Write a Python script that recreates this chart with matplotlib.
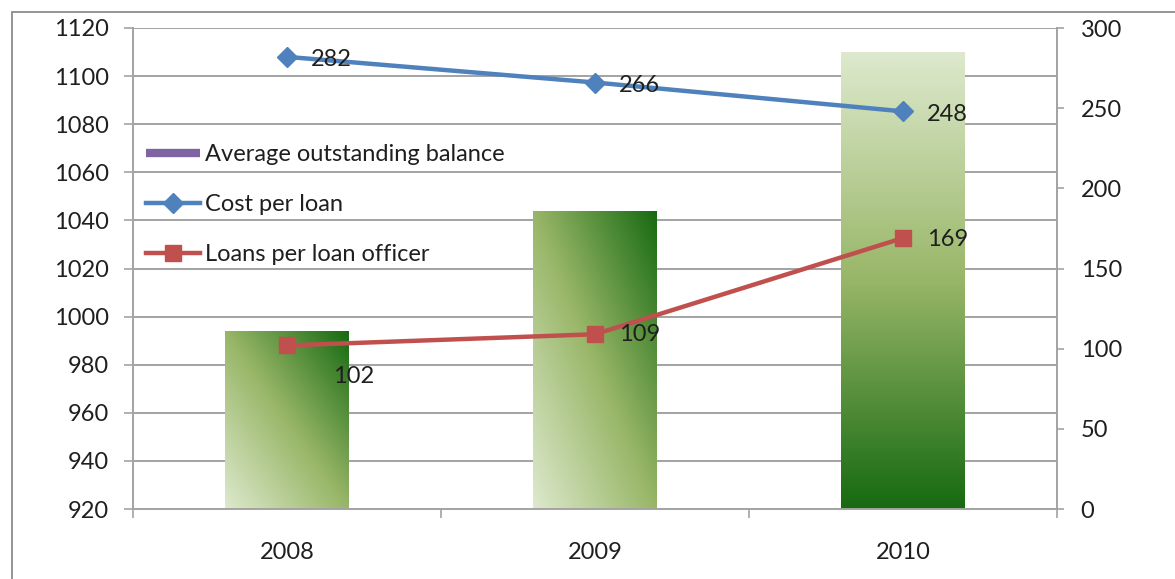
import numpy as np
import matplotlib.pyplot as plt
from matplotlib.colors import LinearSegmentedColormap
from matplotlib.lines import Line2D
from matplotlib.patches import Rectangle

years = ['2008', '2009', '2010']
avg_balance = [994, 1044, 1110]
cost_per_loan = [282, 266, 248]
loans_per_officer = [102, 109, 169]

plt.rcParams['font.family'] = ['Lato', 'DejaVu Sans']
plt.rcParams['font.size'] = 17

GRID = '#a3a3a3'
TXT = '#1f1f1f'
BLUE = '#4f81bd'
RED = '#c0504d'
PURPLE = '#8064a2'

fig = plt.figure(figsize=(11.75, 5.79), dpi=100)
ax = fig.add_axes([133 / 1175, 1 - 509 / 579, 924 / 1175, 481 / 579])
ax2 = ax.twinx()

# rahmen um das ganze diagramm
fig.patches.append(Rectangle((12 / 1175, -0.5), 1.2, 1.5 - 12 / 579,
                             transform=fig.transFigure, fill=False,
                             edgecolor='#8c8c8c', linewidth=1.3))

x = np.arange(len(years))
bars = ax.bar(x, avg_balance, width=0.4, color='none', edgecolor='none', zorder=2)

green = LinearSegmentedColormap.from_list('grn', ['#dde9cd', '#98b667', '#176a12'])
n = 200
u, v = np.meshgrid(np.linspace(0, 1, n), np.linspace(0, 1, n))
diag = (u + v) / 2
vert = 1 - v
grads = [diag, diag, vert]

for bar, g in zip(bars, grads):
    x0, w = bar.get_x(), bar.get_width()
    img = ax.imshow(g, cmap=green, vmin=0, vmax=1, origin='lower',
                    extent=[x0, x0 + w, 920, bar.get_height()],
                    aspect='auto', zorder=2, interpolation='bilinear')
    img.set_clip_path(bar)

ax.set_xlim(-0.5, 2.5)
ax.set_ylim(920, 1120)
ax.set_yticks(np.arange(920, 1121, 20))
ax.yaxis.grid(True, color=GRID, linewidth=1.4)
ax.set_axisbelow(True)

ax.set_xticks(x)
ax.set_xticklabels(years)
ax.set_xticks([-0.5, 0.5, 1.5, 2.5], minor=True)
ax.tick_params(axis='x', which='major', length=0, pad=24, colors=TXT)
ax.tick_params(axis='x', which='minor', length=6.5, width=1.2, color=GRID, direction='out')
ax.tick_params(axis='y', length=6.5, width=1.2, color=GRID, pad=11, colors=TXT)
for s in ['top', 'right']:
    ax.spines[s].set_visible(False)
for s in ['left', 'bottom']:
    ax.spines[s].set_color(GRID)
    ax.spines[s].set_linewidth(1.4)

ax2.set_ylim(0, 300)
ax2.set_yticks(np.arange(0, 301, 50))
ax2.tick_params(axis='y', length=5, width=1.2, color=GRID, pad=12, colors=TXT)
for s in ['top', 'left', 'bottom']:
    ax2.spines[s].set_visible(False)
ax2.spines['right'].set_color(GRID)
ax2.spines['right'].set_linewidth(1.4)

ax2.plot(x, cost_per_loan, color=BLUE, linewidth=3.2, marker='D', markersize=10,
         zorder=3)
ax2.plot(x, loans_per_officer, color=RED, linewidth=3.2, marker='s', markersize=12,
         zorder=3)

for xi, val in zip(x, cost_per_loan):
    ax2.annotate(str(val), (xi, val), xytext=(17, -2), textcoords='offset points',
                 ha='left', va='center', color=TXT)
offsets = [(33, -22), (17, 0), (17, -1)]
for xi, val, off in zip(x, loans_per_officer, offsets):
    ax2.annotate(str(val), (xi, val), xytext=off, textcoords='offset points',
                 ha='left', va='center', color=TXT)

handles = [
    Line2D([], [], color=PURPLE, linewidth=6, solid_capstyle='butt'),
    Line2D([], [], color=BLUE, linewidth=3.2, marker='D', markersize=10),
    Line2D([], [], color=RED, linewidth=3.2, marker='s', markersize=12),
]
labels = ['Average outstanding balance', 'Cost per loan', 'Loans per loan officer']
leg = ax2.legend(handles, labels, loc='upper left',
                 bbox_to_anchor=(146 / 1175, 1 - 144 / 579),
                 bbox_transform=fig.transFigure, frameon=False,
                 borderpad=0, borderaxespad=0, handlelength=2.3,
                 handletextpad=0.2, labelspacing=1.23, fontsize=17)
for t in leg.get_texts():
    t.set_color(TXT)

fig.savefig('out.png', dpi=100)
